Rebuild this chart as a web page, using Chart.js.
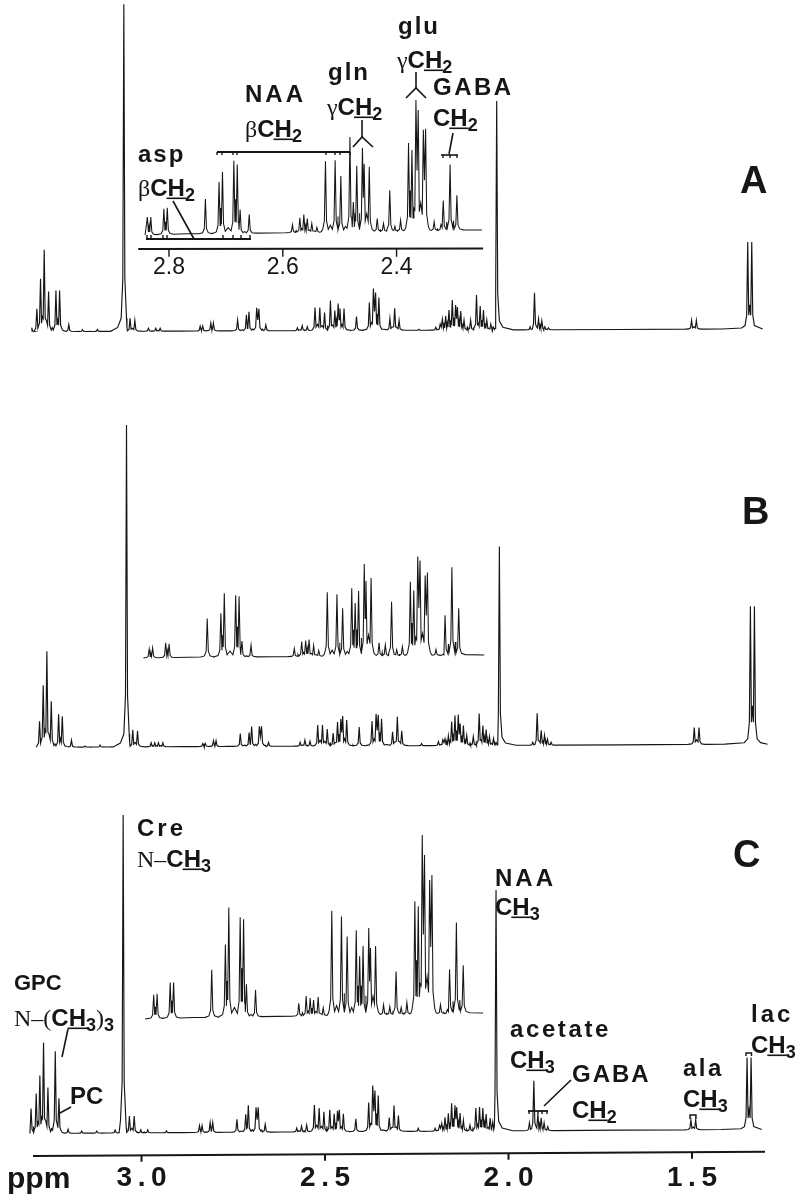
<!DOCTYPE html>
<html>
<head>
<meta charset="utf-8">
<script src="https://cdn.jsdelivr.net/npm/chart.js@4"></script>
<style>html,body{margin:0;padding:0;background:#fff}#c{display:block}</style>
</head>
<body>
<canvas id="c" width="799" height="1199"></canvas>
<script>
// Full spectra: chemical shift (ppm) and intensity read for each of panels A, B, C
const mainPpm = [3.301,3.287,3.277,3.267,3.255,3.235,3.225,3.200,3.163,3.122,3.072,3.050,3.033,3.020,3.002,2.983,2.973,2.963,2.951,2.932,2.842,2.835,2.813,2.806,2.740,2.716,2.709,2.688,2.682,2.663,2.577,2.564,2.550,2.529,2.516,2.503,2.487,2.475,2.466,2.461,2.450,2.416,2.381,2.370,2.364,2.355,2.325,2.312,2.300,2.246,2.200,2.188,2.182,2.173,2.164,2.155,2.146,2.141,2.132,2.123,2.105,2.089,2.079,2.070,2.061,2.050,2.043,2.034,1.943,1.931,1.920,1.911,1.903,1.893,1.503,1.490,1.350,1.339];
const mainA = [4,23,53,82,40,41,41,7,2,2,0,327,13,11,0,3,0,3,3,0,5,5,8,8,11,16,19,23,22,6,3,5,4,23,23,18,30,20,27,22,22,14,28,42,38,33,12,22,10,1,3,6,11,14,20,30,25,23,19,10,10,35,24,20,10,6,3,229,3,37,11,9,3,2,9,9,87,87];
const mainB = [0,26,62,96,46,33,31,7,1,2,0,322,17,16,0,4,4,4,4,0,3,3,6,6,13,14,20,20,20,4,4,6,5,21,21,17,13,24,27,30,26,19,25,32,31,27,14,29,15,2,4,6,7,10,24,30,31,22,20,10,9,32,20,16,9,7,3,199,3,32,15,10,6,3,17,17,138,138];
const mainC = [25,40,58,91,46,82,35,4,2,2,3,318,17,17,3,3,0,0,0,2,7,7,10,10,13,18,27,25,25,8,4,6,7,27,24,20,22,18,21,22,18,13,29,46,41,36,14,26,16,3,3,6,8,14,18,28,26,24,18,11,6,23,24,23,17,13,9,241,8,50,17,13,8,4,10,10,72,72];

// Expanded 2.25-2.85 ppm insets
const insetPpm = [2.838,2.832,2.809,2.803,2.736,2.712,2.706,2.686,2.680,2.675,2.659,2.583,2.570,2.563,2.557,2.549,2.540,2.525,2.508,2.498,2.482,2.476,2.470,2.460,2.457,2.448,2.434,2.423,2.412,2.403,2.393,2.379,2.373,2.366,2.362,2.353,2.349,2.334,2.322,2.318,2.306,2.294];
const insetA = [18,18,26,27,35,52,62,73,69,24,19,8,15,18,14,9,5,71,72,56,95,30,66,84,68,65,13,8,41,5,11,88,81,131,121,101,102,9,6,30,66,35];
const insetB = [9,10,15,14,39,44,64,62,61,16,12,8,15,16,17,11,6,64,62,48,68,53,65,92,75,78,13,11,54,6,9,74,65,99,95,80,83,6,1,40,88,47];
const insetC = [24,25,36,36,48,73,110,100,98,33,27,13,20,18,16,19,8,105,99,79,85,59,69,87,67,69,10,8,43,7,12,113,108,179,159,134,139,9,4,44,91,48];

const mainTicks = [3.0,2.5,2.0,1.5];
const insetTicks = [2.8,2.6,2.4];

const SANS = '"Liberation Sans", Arial, sans-serif';
const SERIF = '"Liberation Serif", "Times New Roman", serif';
const INK = '#161616';

// pixel heights of the panel baselines on the full-page plot
const AREA_BOTTOM = 1154;
const base = {A:331.7, B:747.3, C:1133.5};
const insetBase = {A:235, B:658, C:1019};
const X_MAX = 3.2957, X_MIN = 1.3011;

function peakLine(ppm, h, shift, start, end, w, tilt, lift) {
  const px = [], py = [];
  const idx = ppm.map((_, i) => i).filter(i => h[i] > 0);
  const add = (x, y) => { px.push(x); py.push(y); };
  add(start, 0);
  idx.forEach((i, k) => {
    const p = ppm[i] + shift, a = h[i];
    const prev = k ? ppm[idx[k - 1]] + shift : start;
    const next = k < idx.length - 1 ? ppm[idx[k + 1]] + shift : end;
    const gl = prev - p, gr = p - next;
    if (gl > 12 * w) add(p + 6 * w, a * 0.012);
    if (gl > 5 * w) add(p + 2.6 * w, a * 0.04);
    if (gl > 2.2 * w) add(p + w, a * 0.16);
    add(p, a);
    if (gr > 2.2 * w) add(p - w, a * 0.16);
    if (gr > 5 * w) add(p - 2.6 * w, a * 0.04);
    if (gr > 12 * w) add(p - 6 * w, a * 0.012);
    if (k < idx.length - 1) {
      const b = h[idx[k + 1]], m = Math.min(a, b);
      const close = gr < 3.5 * w ? 0.5 : gr < 7 * w ? 0.28 : gr < 12 * w ? 0.10 : 0.02;
      add(p - gr / 2, m * close);
    }
  });
  add(end, 0);
  return px.map((x, i) => ({
    x, y: py[i] + tilt * (start - x) / (start - end) + lift
  }));
}

const mainW = 0.0028, insetW = 0.0019;
const ds = (data, xAxisID, yAxisID, borderWidth) => ({
  data, xAxisID, yAxisID, borderColor: INK, borderWidth: borderWidth || 1.15, pointRadius: 0,
  tension: 0, clip: false, fill: false
});

// the main axis runs slightly off level in the reference
const axisY = v => -22.5 + 4.3 * (X_MAX - v) / (X_MAX - X_MIN);

const datasets = [
  ds(peakLine(mainPpm, mainA, -0.0018, 3.298, 1.3075, mainW, 2.7, 0), 'x', 'yA'),
  ds(peakLine(mainPpm, mainB, -0.0091, 3.287, 1.294, mainW, 3, 0), 'x', 'yB'),
  ds(peakLine(mainPpm, mainC, 0, 3.304, 1.310, mainW, 4, 0), 'x', 'yC'),
  ds(peakLine(insetPpm, insetA, 0, 2.842, 2.250, insetW, 5, base.A - insetBase.A), 'xi', 'yA', 1.05),
  ds(peakLine(insetPpm, insetB, -0.0032, 2.845, 2.246, insetW, 3, base.B - insetBase.B), 'xi', 'yB', 1.05),
  ds(peakLine(insetPpm, insetC, -0.0111, 2.842, 2.248, insetW, 6, base.C - insetBase.C), 'xi', 'yC', 1.05)
];

// main axis line and tick marks
datasets.push(ds([{x:X_MAX,y:axisY(X_MAX)},{x:X_MIN,y:axisY(X_MIN)}], 'x', 'yC', 2));
mainTicks.forEach(v => datasets.push(ds([{x:v,y:axisY(v)},{x:v,y:axisY(v)-6.5}], 'x', 'yC', 2)));
// inset axis line and tick marks of panel A
datasets.push(ds([{x:2.854,y:82.7},{x:2.248,y:83.2}], 'xi', 'yA', 2));
insetTicks.forEach(v => datasets.push(ds([{x:v,y:83},{x:v,y:75}], 'xi', 'yA', 1.4)));

function word(ctx, x, y, text, size, spacing) {
  ctx.font = 'bold ' + size + 'px ' + SANS;
  ctx.letterSpacing = (spacing || 0) + 'px';
  ctx.fillText(text, x, y);
  ctx.letterSpacing = '0px';
}
function chem(ctx, x, y, prefix, sub, suffix, size) {
  size = size || 24;
  let cx = x;
  if (prefix) {
    ctx.font = size + 'px ' + SERIF;
    ctx.fillText(prefix, cx, y);
    cx += ctx.measureText(prefix).width;
  }
  ctx.font = 'bold ' + size + 'px ' + SANS;
  ctx.fillText('C', cx, y);
  cx += ctx.measureText('C').width;
  ctx.fillText('H', cx, y);
  const hw = ctx.measureText('H').width;
  ctx.fillRect(cx - 1, y + 1.5, hw + 2, 1.6);
  cx += hw;
  ctx.font = 'bold ' + Math.round(size * 0.75) + 'px ' + SANS;
  ctx.fillText(sub, cx, y + 5);
  cx += ctx.measureText(sub).width;
  if (suffix) {
    ctx.font = size + 'px ' + SERIF;
    ctx.fillText(')', cx, y);
    cx += ctx.measureText(')').width;
    ctx.font = 'bold ' + Math.round(size * 0.75) + 'px ' + SANS;
    ctx.fillText(suffix, cx, y + 5);
  }
}
function seg(ctx, pts, w) {
  ctx.lineWidth = w || 1.6;
  ctx.beginPath();
  pts.forEach((p, i) => i ? ctx.lineTo(p[0], p[1]) : ctx.moveTo(p[0], p[1]));
  ctx.stroke();
}

const annotations = {
  id: 'annotations',
  afterDatasetsDraw(chart) {
    const ctx = chart.ctx;
    ctx.save();
    ctx.fillStyle = INK; ctx.strokeStyle = INK;
    ctx.textBaseline = 'alphabetic'; ctx.textAlign = 'left';

    // panel letters
    word(ctx, 740, 193, 'A', 38);
    word(ctx, 742, 524, 'B', 38);
    word(ctx, 733, 867, 'C', 38);

    // panel A labels
    word(ctx, 138, 162, 'asp', 24, 2);
    chem(ctx, 138, 196, '\u03B2', '2');
    word(ctx, 245, 102, 'NAA', 24, 3);
    chem(ctx, 245, 137, '\u03B2', '2');
    word(ctx, 328, 80, 'gln', 24, 2);
    chem(ctx, 327, 115, '\u03B3', '2');
    word(ctx, 398, 34, 'glu', 24, 2);
    chem(ctx, 397, 68, '\u03B3', '2');
    word(ctx, 433, 95, 'GABA', 24, 2.5);
    chem(ctx, 433, 126, '', '2');

    // panel A brackets
    seg(ctx, [[217,152],[350,152]], 2);
    [217,222,233,237,326,335,340,350].forEach(x => seg(ctx, [[x,152],[x,155]], 1.4));
    seg(ctx, [[362,120],[362,137]]);
    seg(ctx, [[353,147],[362,137],[373,147]]);
    seg(ctx, [[416,72],[416,88]]);
    seg(ctx, [[406,98],[416,88],[426,98]]);
    seg(ctx, [[453,133],[449,154]]);
    seg(ctx, [[441,155],[458,155]]);
    [443,450,457].forEach(x => seg(ctx, [[x,155],[x,158]], 1.4));
    seg(ctx, [[146,239],[251,239]], 2);
    [147,151,163,167,223,233,241,250].forEach(x => seg(ctx, [[x,239],[x,235]], 1.4));
    seg(ctx, [[173,201],[194,239]]);

    // panel C labels
    word(ctx, 137, 836, 'Cre', 24, 3);
    chem(ctx, 137, 867, 'N\u2013', '3');
    word(ctx, 495, 886, 'NAA', 24, 3);
    chem(ctx, 495, 915, '', '3');
    word(ctx, 14, 990, 'GPC', 22, 0);
    chem(ctx, 14, 1026, 'N\u2013(', '3', '3');
    seg(ctx, [[68,1029],[62,1057]]);
    word(ctx, 70, 1104, 'PC', 24, 0);
    seg(ctx, [[71,1107],[60,1113]]);
    word(ctx, 510, 1037, 'acetate', 24, 2.6);
    chem(ctx, 510, 1068, '', '3');
    word(ctx, 572, 1082, 'GABA', 24, 2);
    chem(ctx, 572, 1118, '', '2');
    seg(ctx, [[571,1080],[544,1106]]);
    seg(ctx, [[528,1111],[548,1111]], 1.8);
    [529,538,542,547].forEach(x => seg(ctx, [[x,1111],[x,1114]], 1.4));
    word(ctx, 683, 1076, 'ala', 24, 2.5);
    chem(ctx, 683, 1107, '', '3');
    seg(ctx, [[690,1119],[690,1115],[696,1115],[696,1119]], 1.4);
    word(ctx, 751, 1022, 'lac', 24, 3);
    chem(ctx, 751, 1053, '', '3');
    seg(ctx, [[746,1056],[746,1053],[751.5,1053],[751.5,1056]], 1.4);

    // axis unit
    word(ctx, 7, 1188, 'ppm', 30, 0);
    ctx.restore();
  }
};

const hiddenY = (b) => ({
  type: 'linear', display: false, min: b - AREA_BOTTOM, max: b
});

new Chart(document.getElementById('c'), {
  type: 'line',
  data: { datasets },
  plugins: [annotations],
  options: {
    responsive: false,
    animation: false,
    events: [],
    layout: { padding: { left: 33, right: 34, top: 0, bottom: 0 } },
    plugins: { legend: { display: false }, tooltip: { enabled: false }, title: { display: false } },
    scales: {
      x: {
        type: 'linear', position: 'bottom', reverse: true,
        min: X_MIN, max: X_MAX,
        afterFit(s) { s.height = 45; },
        afterBuildTicks(s) { s.ticks = mainTicks.map(value => ({ value })); },
        border: { display: false },
        grid: { display: false, tickLength: 7 },
        ticks: {
          autoSkip: false, maxRotation: 0, minRotation: 0, padding: 0, color: INK,
          font: { family: SANS, size: 28, weight: 'bold' },
          callback: v => v.toFixed(1).replace('.', '\u2009.\u2009')
        }
      },
      xi: {
        type: 'linear', reverse: true,
        position: { yA: 82.5 },
        min: 1.7525, max: 3.039,
        afterBuildTicks(s) { s.ticks = insetTicks.map(value => ({ value })); },
        border: { display: false },
        grid: { display: false, tickLength: 8 },
        ticks: {
          autoSkip: false, maxRotation: 0, minRotation: 0, padding: -3, color: INK,
          font: { family: SANS, size: 23 },
          callback: v => v.toFixed(1)
        }
      },
      yA: hiddenY(base.A),
      yB: hiddenY(base.B),
      yC: hiddenY(base.C)
    }
  }
});
</script>
</body>
</html>
